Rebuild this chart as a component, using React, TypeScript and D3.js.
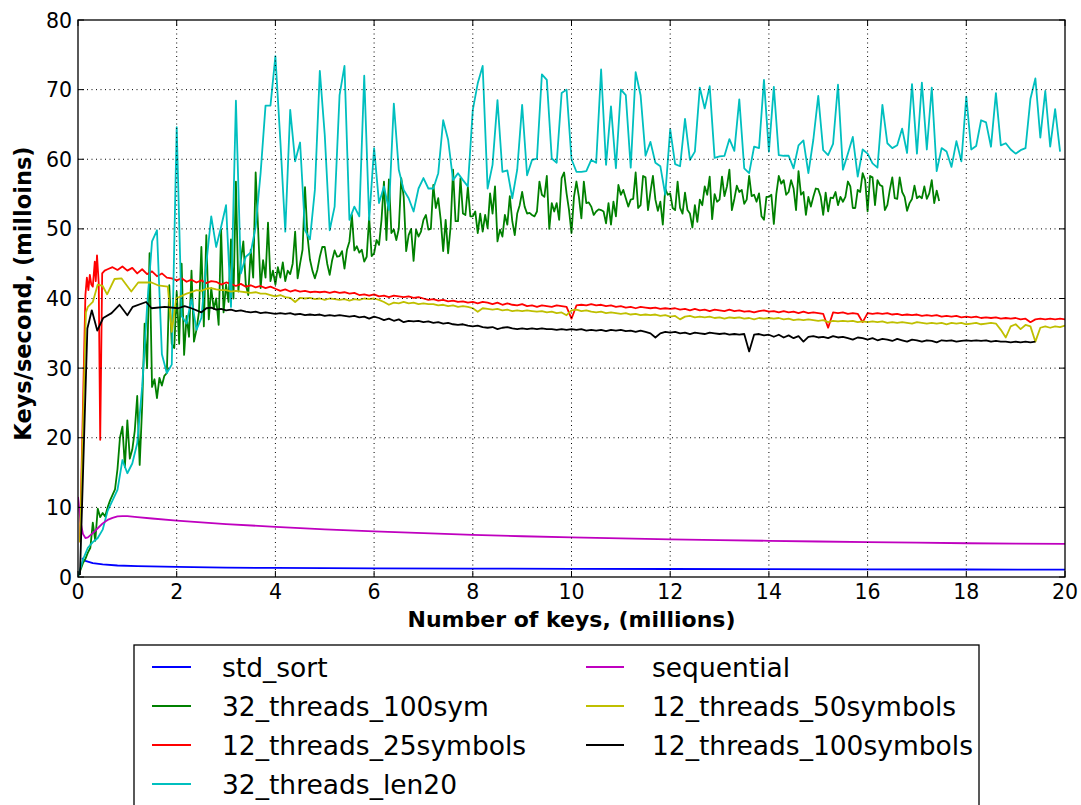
import React from 'react';
import * as d3 from 'd3';

// Axis ticks
const xTicks = [0, 2, 4, 6, 8, 10, 12, 14, 16, 18, 20];
const yTicks = [0, 10, 20, 30, 40, 50, 60, 70, 80];

// std_sort (smooth, sparse samples)
const stdSortX = [0.08, 0.15, 0.3, 0.5, 0.8, 1.2, 2, 3, 4, 6, 8, 10, 12, 14, 16, 18, 20];
const stdSortY = [2.7, 2.3, 2.0, 1.8, 1.65, 1.55, 1.45, 1.35, 1.3, 1.25, 1.2, 1.18, 1.15, 1.13, 1.1, 1.08, 1.05];

// sequential (smooth, sparse samples)
const sequentialX = [0, 0.05, 0.1, 0.15, 0.2, 0.3, 0.4, 0.5, 0.6, 0.7, 0.8, 0.9, 1.0, 1.2, 1.5, 2, 3, 4, 5, 6, 7, 8, 9, 10, 11, 12, 13, 14, 15, 16, 17, 18, 19, 20];
const sequentialY = [11.5, 8.0, 6.2, 5.6, 5.7, 6.3, 7.0, 7.7, 8.2, 8.5, 8.7, 8.75, 8.75, 8.6, 8.4, 8.1, 7.6, 7.2, 6.85, 6.55, 6.3, 6.05, 5.85, 5.7, 5.55, 5.4, 5.3, 5.2, 5.1, 5.0, 4.95, 4.85, 4.8, 4.75];

// 32_threads_100sym, sampled every 0.05M keys, in four runs
const threads32Sym100Step = 0.05;
const threads32Sym100From0 = [
  0.0, 1.0, 2.0, 2.6, 3.5, 4.2, 7.8, 5.2, 9.8, 8.6,
  9.2, 8.7, 10.0, 11.0, 11.8, 12.6, 15.5, 20.0, 21.6, 15.8,
  22.5, 17.0, 18.3, 21.0, 26.0, 16.1, 24.5, 36.4, 30.0, 46.5,
  27.3, 28.4, 25.7, 28.6, 27.5, 28.9, 29.3, 41.9, 33.5, 32.9,
  41.0, 33.5, 45.0, 31.9, 37.5, 34.5, 44.0, 33.8, 35.5, 38.0,
  47.4, 36.0, 49.1, 37.0, 41.5, 38.5, 40.0, 36.2, 49.9, 38.0,
  42.0, 39.5, 48.5, 40.0, 56.8, 41.0, 45.5, 48.2, 42.0, 40.5,
  47.0, 43.0, 58.1, 50.0, 41.5, 45.5, 43.0, 50.9, 42.5, 44.0,
  42.0, 44.5, 43.0, 45.2, 42.5, 44.0, 43.5, 45.0, 49.6, 42.9,
  45.0, 47.0, 56.0, 49.0, 45.6, 44.0, 42.9, 44.1, 46.0, 47.4,
];
const threads32Sym100From5 = [
  47.4, 45.0, 43.4, 45.5, 46.9, 46.0, 46.1, 46.8, 44.3, 47.0,
  48.2, 52.0, 46.9, 47.5, 46.6, 47.0, 45.3, 46.0, 51.7, 46.1,
  46.5, 48.4, 47.7, 51.3, 56.8, 48.4, 57.1, 49.4, 49.9, 48.4,
  50.0, 57.3, 54.6, 46.8, 49.1, 50.0, 45.4, 49.9, 48.9, 49.6,
  51.3, 52.0, 49.9, 50.0, 56.3, 53.0, 54.4, 51.3, 46.8, 51.3,
  46.5, 50.3, 58.5, 51.1, 51.1, 57.3, 52.2, 52.0, 56.0, 51.8,
  51.8, 52.5, 49.4, 52.2, 49.6, 52.0, 50.1, 55.1, 52.2, 56.1,
  48.2, 49.9, 48.9, 52.0, 50.6, 54.7, 51.1, 49.1, 52.2, 53.4,
  55.3, 53.2, 52.2, 52.3, 52.0, 51.8, 52.5, 56.8, 54.9, 54.6,
  57.6, 50.0, 53.7, 52.5, 53.7, 51.3, 57.3, 58.1, 55.1, 52.7,
  49.4, 54.6,
];
const threads32Sym100From10 = [
  56.8, 54.6, 51.5, 56.8, 53.7, 53.8, 53.2, 52.0, 52.5, 52.8,
  52.7, 52.5, 50.8, 53.7, 50.6, 53.9, 51.8, 56.3, 54.9, 55.6,
  54.4, 53.2, 54.2, 54.3, 58.1, 53.0, 53.4, 57.6, 57.4, 52.7,
  55.3, 57.6, 54.2, 52.6, 53.9, 50.6, 55.8, 54.9, 55.1, 53.0,
  52.7, 56.8, 53.0, 52.2, 55.2, 52.7, 52.2, 50.2, 53.4, 51.0,
  54.2, 53.4, 56.1, 54.9, 57.5, 51.4, 55.0, 53.9, 54.2, 57.5,
  54.7, 56.1, 58.5, 52.7, 54.3, 56.2, 55.3, 55.6, 53.6, 54.2,
  57.6, 54.7, 54.9, 53.9, 55.1, 51.8, 51.3, 54.6, 54.6, 54.9,
  50.7, 55.0, 57.6, 56.5, 57.0, 54.9, 55.3, 57.0, 55.8, 52.7,
  58.3, 54.9, 55.3, 52.0, 54.6, 53.2, 54.6, 55.8,
];
const threads32Sym100From15 = [
  55.7, 54.6, 52.0, 55.2, 52.5, 54.5, 54.4, 55.3, 53.4, 54.6,
  53.9, 54.6, 56.8, 56.1, 53.0, 53.0, 55.6, 55.3, 58.0, 57.0,
  52.5, 57.6, 57.4, 53.4, 57.0, 56.3, 56.1, 52.7, 53.4, 55.6,
  57.4, 54.4, 54.3, 57.4, 55.3, 54.6, 52.6, 53.7, 54.3, 56.2,
  54.4, 54.7, 54.4, 56.1, 54.3, 55.1, 57.0, 53.7, 55.5, 54.0,
];

// 12_threads_25symbols: ramp-up samples, then every 0.1M keys from 0.6
const threads12Sym25HeadX = [0.04, 0.15, 0.18, 0.21, 0.24, 0.27, 0.3, 0.34, 0.36, 0.385, 0.42, 0.45, 0.49, 0.54];
const threads12Sym25HeadY = [5.0, 40.5, 43.0, 41.2, 43.4, 42.0, 41.7, 45.3, 42.5, 46.2, 42.2, 19.7, 43.6, 44.0];
const threads12Sym25Start = 0.6;
const threads12Sym25Step = 0.1;
const threads12Sym25Values = [
  44.2, 44.5, 44.1, 44.6,
  44.0, 44.4, 43.6, 44.2, 43.5, 43.9, 43.2, 43.6, 43.0, 42.9,
  42.6, 42.9, 42.4, 42.7, 42.3, 42.6, 42.2, 42.5, 42.4, 42.0,
  42.3, 42.1, 41.8, 42.1, 41.7, 41.9, 41.6, 41.8, 41.5, 41.7,
  41.4, 41.1, 41.3, 41.0, 41.2, 41.0, 41.1, 40.9, 41.0, 40.9,
  41.0, 40.8, 41.0, 40.8, 40.9, 40.7, 40.8, 40.5, 40.6, 40.4,
  40.6, 40.3, 40.4, 40.2, 40.4, 40.3, 40.2, 40.3, 40.1, 40.2,
  40.0, 39.8, 39.9, 39.7, 39.8, 39.6, 39.7, 39.5, 39.6, 39.4,
  39.5, 39.3, 39.5, 39.4, 39.2, 39.4, 39.1, 39.3, 39.1, 39.0,
  39.2, 38.9, 39.0, 38.8, 39.0, 38.9, 38.8, 39.0, 38.9, 38.8,
  37.1, 39.0, 39.1, 39.0, 39.2, 39.0, 39.1, 38.9, 39.0, 38.8,
  38.9, 38.7, 38.8, 38.6, 38.8, 38.7, 38.6, 38.7, 38.5, 38.6,
  38.5, 38.6, 38.4, 38.5, 38.3, 38.5, 38.3, 38.4, 38.2, 38.4,
  38.3, 38.2, 38.4, 38.2, 38.3, 38.1, 38.2, 38.0, 38.2, 38.3,
  38.1, 38.2, 38.0, 38.2, 38.0, 38.1, 37.9, 38.1, 37.9, 38.0,
  37.9, 37.8, 35.8, 38.0, 37.9, 38.0, 37.8, 37.9, 37.8, 36.6,
  37.9, 37.8, 37.9, 37.8, 37.9, 37.7, 37.8, 37.6, 37.7, 37.6,
  37.7, 37.5, 37.6, 37.5, 37.6, 37.4, 37.5, 37.4, 37.5, 37.3,
  37.4, 37.3, 37.4, 37.2, 37.3, 37.2, 37.3, 37.1, 37.2, 37.1,
  37.2, 37.0, 37.1, 36.6, 37.0, 37.1, 37.0, 37.1, 37.0, 37.1,
  37.0,
];

// 32_threads_len20, every 0.1M keys
const threads32Len20Step = 0.1;
const threads32Len20Values = [
  0.0, 2.5, 4.2, 5.0, 5.6, 6.8, 9.5, 11.0, 12.5, 16.8,
  14.9, 16.3, 19.2, 27.3, 38.8, 48.2, 49.8, 32.0, 29.3, 30.5,
  64.6, 37.5, 36.4, 40.0, 35.5, 37.2, 45.0, 51.8, 47.4, 50.3,
  53.4, 38.8, 68.4, 43.6, 46.0, 46.6, 50.3, 58.0, 67.7, 67.7,
  74.8, 62.7, 49.6, 67.1, 59.7, 62.4, 49.8, 48.5, 55.6, 72.7,
  63.5, 49.8, 53.2, 69.2, 73.4, 51.3, 53.2, 51.8, 72.0, 51.3,
  61.6, 53.7, 56.1, 52.7, 68.0, 58.5, 55.6, 54.4, 52.5, 55.8,
  57.3, 55.8, 55.8, 58.0, 65.6, 62.8, 57.0, 58.0, 57.0, 56.1,
  67.1, 70.9, 73.4, 55.8, 59.2, 68.5, 58.2, 58.4, 54.4, 58.5,
  67.8, 57.7, 59.9, 60.1, 72.2, 71.4, 60.1, 59.5, 69.5, 70.0,
  60.0, 58.2, 58.2, 58.3, 59.9, 59.5, 72.9, 59.2, 67.6, 58.7,
  70.0, 69.2, 58.8, 72.5, 69.2, 60.5, 62.5, 59.5, 59.0, 54.9,
  64.3, 59.3, 59.0, 65.8, 59.9, 61.1, 70.3, 67.3, 70.5, 60.2,
  60.4, 60.5, 62.9, 61.2, 68.6, 58.7, 58.0, 61.8, 61.6, 71.4,
  61.1, 70.4, 60.6, 60.5, 60.5, 58.7, 62.0, 62.7, 58.0, 62.8,
  69.1, 61.3, 60.6, 62.2, 70.7, 58.5, 60.8, 63.2, 57.5, 61.4,
  60.8, 59.4, 58.8, 67.8, 62.3, 61.6, 62.0, 64.4, 60.9, 70.8,
  60.8, 71.0, 61.4, 70.3, 58.3, 61.6, 61.1, 58.9, 62.6, 59.7,
  69.0, 61.4, 61.9, 65.6, 65.3, 61.8, 69.5, 62.0, 62.3, 61.4,
  60.8, 61.3, 61.6, 68.7, 71.6, 63.1, 69.8, 61.8, 67.2, 61.1,
];

// 12_threads_50symbols: ramp-up samples, then every 0.1M keys from 2.3
const threads12Sym50HeadX = [0.04, 0.16, 0.2, 0.3, 0.4, 0.5, 0.59, 0.74, 0.88, 1.08, 1.22, 1.49, 1.62, 1.82, 1.9, 1.99, 2.2];
const threads12Sym50HeadY = [5.0, 38.0, 38.8, 39.5, 42.0, 41.8, 40.6, 42.8, 42.9, 41.0, 42.3, 42.3, 41.9, 41.7, 35.2, 40.0, 40.7];
const threads12Sym50Start = 2.3;
const threads12Sym50Step = 0.1;
const threads12Sym50Values = [
  40.9, 41.2, 41.1, 41.4, 41.5, 41.3, 41.2,
  41.2, 41.0, 41.1, 41.0, 40.9, 40.8, 40.9, 40.7, 40.7, 40.5,
  40.3, 40.5, 40.2, 40.1, 39.5, 40.1, 40.0, 40.1, 39.9, 40.0,
  39.8, 40.0, 39.9, 39.8, 39.9, 39.7, 39.9, 39.8, 40.0, 39.9,
  40.0, 39.8, 39.5, 39.1, 39.4, 39.3, 39.5, 39.3, 39.4, 39.2,
  39.3, 39.2, 39.2, 39.0, 39.1, 38.9, 39.0, 38.8, 38.9, 38.8,
  38.6, 38.1, 38.6, 38.5, 38.4, 38.5, 38.3, 38.4, 38.2, 38.3,
  38.2, 38.3, 38.2, 38.1, 38.2, 38.0, 38.1, 37.9, 38.0, 37.6,
  38.3, 38.4, 38.2, 38.3, 38.1, 38.0, 38.1, 37.9, 38.0, 37.9,
  37.8, 37.9, 37.7, 37.8, 37.6, 37.7, 37.6, 37.7, 37.5, 37.6,
  37.4, 37.5, 37.0, 37.4, 37.5, 37.3, 37.4, 37.3, 37.4, 37.2,
  37.3, 37.1, 37.3, 37.2, 37.3, 37.1, 37.2, 37.0, 37.2, 37.1,
  37.2, 37.1, 37.2, 37.0, 37.1, 36.9, 37.0, 36.9, 37.0, 36.9,
  36.8, 36.9, 36.6, 36.8, 36.7, 36.8, 36.7, 36.8, 36.6, 36.7,
  36.6, 36.7, 36.6, 36.7, 36.5, 36.6, 36.5, 36.6, 36.5, 36.4,
  36.6, 36.5, 36.4, 36.5, 36.4, 36.5, 36.3, 36.5, 36.4, 36.5,
  36.3, 36.4, 36.5, 36.3, 36.4, 36.5, 36.4, 35.5, 34.4, 36.0,
  36.3, 35.6, 36.2, 36.0, 33.8, 35.8, 36.0, 35.8, 36.0, 35.9,
  36.1,
];

// 12_threads_100symbols: ramp-up samples, then every 0.1M keys from 2.6
const threads12Sym100HeadX = [0.04, 0.19, 0.28, 0.39, 0.51, 0.68, 0.84, 1.0, 1.11, 1.38, 1.49, 1.76, 2.03, 2.16, 2.3, 2.5];
const threads12Sym100HeadY = [0.3, 35.7, 38.3, 35.4, 37.2, 37.9, 39.1, 37.6, 38.8, 39.5, 38.6, 38.8, 38.6, 38.9, 38.6, 38.0];
const threads12Sym100Start = 2.6;
const threads12Sym100Step = 0.1;
const threads12Sym100Values = [
  38.6, 38.7, 38.4, 38.5,
  38.3, 38.4, 38.2, 38.3, 38.1, 38.0, 38.1, 37.9, 38.0, 37.9,
  37.8, 37.9, 37.8, 37.9, 37.7, 37.8, 37.6, 37.7, 37.6, 37.7,
  37.5, 37.6, 37.5, 37.6, 37.5, 37.4, 37.5, 37.3, 37.4, 37.1,
  37.4, 37.2, 36.9, 37.1, 36.8, 37.0, 36.6, 36.8, 36.7, 36.8,
  36.6, 36.7, 36.5, 36.6, 36.4, 36.5, 36.3, 36.2, 36.3, 36.1,
  36.0, 36.1, 35.9, 35.8, 35.9, 35.6, 35.8, 35.9, 35.7, 35.6,
  35.7, 35.6, 35.7, 35.6, 35.7, 35.6, 35.6, 35.5, 35.6, 35.5,
  35.6, 35.5, 35.6, 35.4, 35.5, 35.4, 35.5, 35.3, 35.5, 35.4,
  35.5, 35.3, 35.4, 35.2, 35.4, 35.2, 35.0, 34.4, 35.0, 35.2,
  35.1, 35.2, 35.0, 35.1, 34.9, 35.1, 35.0, 34.9, 35.1, 35.0,
  34.9, 35.0, 34.8, 34.9, 34.8, 34.9, 32.4, 34.8, 34.9, 34.7,
  34.8, 34.5, 34.8, 34.4, 34.7, 34.3, 34.6, 33.8, 34.5, 34.6,
  34.4, 34.5, 34.3, 34.6, 34.4, 34.5, 34.3, 34.1, 34.4, 34.3,
  34.1, 34.3, 34.0, 34.2, 34.1, 33.9, 34.2, 34.0, 33.8, 34.1,
  34.0, 33.8, 34.0, 33.9, 33.7, 34.0, 33.9, 34.0, 33.8, 33.9,
  34.0, 33.9, 34.0, 33.9, 34.0, 33.8, 33.9, 33.8, 33.8, 33.7,
  33.8, 33.7, 33.8, 33.7, 33.8,
];

type Pt = [number, number];

function zip(xs: number[], ys: number[]): Pt[] {
  return xs.map((x, i) => [x, ys[i]]);
}

function sampled(start: number, step: number, values: number[]): Pt[] {
  return values.map((v, i) => [start + i * step, v]);
}

const W = 1081;
const H = 805;
const plot = { left: 78, right: 1065, top: 20, bottom: 577 };
const FONT = 'DejaVu Sans, Liberation Sans, sans-serif';

const x = d3.scaleLinear().domain([0, 20]).range([plot.left, plot.right]);
const y = d3.scaleLinear().domain([0, 80]).range([plot.bottom, plot.top]);

const series = [
  { name: 'std_sort', color: '#0000ff', pts: zip(stdSortX, stdSortY) },
  {
    name: '32_threads_100sym',
    color: '#008000',
    pts: [
      ...sampled(0, threads32Sym100Step, threads32Sym100From0),
      ...sampled(5, threads32Sym100Step, threads32Sym100From5),
      ...sampled(10.1, threads32Sym100Step, threads32Sym100From10),
      ...sampled(15, threads32Sym100Step, threads32Sym100From15),
    ],
  },
  {
    name: '12_threads_25symbols',
    color: '#ff0000',
    pts: [...zip(threads12Sym25HeadX, threads12Sym25HeadY), ...sampled(threads12Sym25Start, threads12Sym25Step, threads12Sym25Values)],
  },
  { name: '32_threads_len20', color: '#00bfbf', pts: sampled(0, threads32Len20Step, threads32Len20Values) },
  { name: 'sequential', color: '#bf00bf', pts: zip(sequentialX, sequentialY) },
  {
    name: '12_threads_50symbols',
    color: '#bfbf00',
    pts: [...zip(threads12Sym50HeadX, threads12Sym50HeadY), ...sampled(threads12Sym50Start, threads12Sym50Step, threads12Sym50Values)],
  },
  {
    name: '12_threads_100symbols',
    color: '#000000',
    pts: [...zip(threads12Sym100HeadX, threads12Sym100HeadY), ...sampled(threads12Sym100Start, threads12Sym100Step, threads12Sym100Values)],
  },
];

const line = d3
  .line<Pt>()
  .x((d) => x(d[0]))
  .y((d) => y(d[1]));

const TICK = 6;
const legendRows = 4;
const legend = { left: 134, right: 979, top: 645, rowY0: 667, rowGap: 39 };
const legendCols = [
  { lineX0: 152, lineX1: 191, textX: 222 },
  { lineX0: 586, lineX1: 624, textX: 652 },
];

export default function App() {
  return (
    <svg
      width={W}
      height={H}
      viewBox={`0 0 ${W} ${H}`}
      style={{ position: 'absolute', left: 0, top: 0, display: 'block', background: '#ffffff' }}
    >
      <rect x={0} y={0} width={W} height={H} fill="#ffffff" />
      <defs>
        <clipPath id="plot-clip">
          <rect x={plot.left} y={plot.top} width={plot.right - plot.left} height={plot.bottom - plot.top} />
        </clipPath>
      </defs>

      {/* data lines */}
      <g clipPath="url(#plot-clip)" fill="none" strokeWidth={1.8} strokeLinejoin="round" strokeLinecap="butt">
        {series.map((s) => (
          <path key={s.name} d={line(s.pts) || ''} stroke={s.color} />
        ))}
      </g>

      {/* dotted grid */}
      <g stroke="#000000" strokeWidth={1} strokeDasharray="1,3.5">
        {xTicks.slice(1, -1).map((t) => (
          <line key={`gx${t}`} x1={x(t)} x2={x(t)} y1={plot.top} y2={plot.bottom} />
        ))}
        {yTicks.slice(1, -1).map((t) => (
          <line key={`gy${t}`} x1={plot.left} x2={plot.right} y1={y(t)} y2={y(t)} />
        ))}
      </g>

      {/* inward ticks on all four sides */}
      <g stroke="#000000" strokeWidth={1}>
        {xTicks.map((t) => (
          <g key={`tx${t}`}>
            <line x1={x(t)} x2={x(t)} y1={plot.bottom} y2={plot.bottom - TICK} />
            <line x1={x(t)} x2={x(t)} y1={plot.top} y2={plot.top + TICK} />
          </g>
        ))}
        {yTicks.map((t) => (
          <g key={`ty${t}`}>
            <line x1={plot.left} x2={plot.left + TICK} y1={y(t)} y2={y(t)} />
            <line x1={plot.right} x2={plot.right - TICK} y1={y(t)} y2={y(t)} />
          </g>
        ))}
      </g>

      {/* frame */}
      <rect
        x={plot.left}
        y={plot.top}
        width={plot.right - plot.left}
        height={plot.bottom - plot.top}
        fill="none"
        stroke="#000000"
        strokeWidth={1.3}
      />

      {/* tick labels */}
      <g fontFamily={FONT} fontSize={20.5} fill="#000000">
        {xTicks.map((t) => (
          <text key={`lx${t}`} x={x(t)} y={plot.bottom + 22} textAnchor="middle">
            {t}
          </text>
        ))}
        {yTicks.map((t) => (
          <text key={`ly${t}`} x={plot.left - 6} y={y(t) + 7.5} textAnchor="end">
            {t}
          </text>
        ))}
      </g>

      {/* axis titles */}
      <text
        x={(plot.left + plot.right) / 2}
        y={627}
        textAnchor="middle"
        fontFamily={FONT}
        fontWeight="bold"
        fontSize={22}
      >
        Number of keys, (millions)
      </text>
      <text
        transform={`translate(31, ${(plot.top + plot.bottom) / 2 - 5}) rotate(-90)`}
        textAnchor="middle"
        fontFamily={FONT}
        fontWeight="bold"
        fontSize={22.5}
      >
        Keys/second, (milloins)
      </text>

      {/* legend */}
      <rect
        x={legend.left}
        y={legend.top}
        width={legend.right - legend.left}
        height={H - legend.top + 20}
        fill="#ffffff"
        stroke="#000000"
        strokeWidth={1.3}
      />
      {series.map((s, i) => {
        const col = legendCols[Math.floor(i / legendRows)];
        const row = i % legendRows;
        const cy = legend.rowY0 + row * legend.rowGap;
        return (
          <g key={`lg${s.name}`}>
            <line x1={col.lineX0} x2={col.lineX1} y1={cy} y2={cy} stroke={s.color} strokeWidth={1.8} />
            <text x={col.textX} y={cy + 9.5} fontFamily={FONT} fontSize={26.5} fill="#000000">
              {s.name}
            </text>
          </g>
        );
      })}
    </svg>
  );
}
